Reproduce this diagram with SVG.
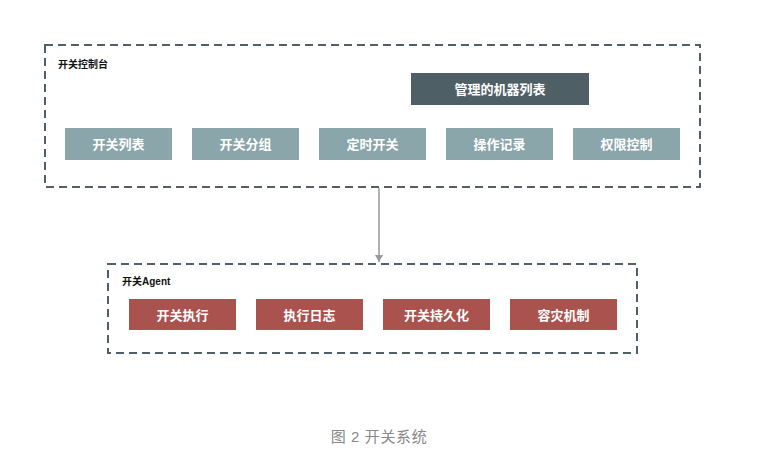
<svg xmlns="http://www.w3.org/2000/svg" width="758" height="452" viewBox="0 0 758 452">
<style>
.frame{fill:none;stroke:#525f66;stroke-width:2;stroke-dasharray:8 5}
.teal{fill:#8aa6aa}
.dark{fill:#4f5f66}
.red{fill:#a9524e}
.bt{font-family:"Liberation Sans","Noto Sans CJK SC",sans-serif;font-size:13px;font-weight:bold;fill:#fff;text-anchor:middle}
.lbl{font-family:"Liberation Sans","Noto Sans CJK SC",sans-serif;font-size:10px;font-weight:bold;fill:#111}
.cap{font-family:"Liberation Sans","Noto Sans CJK SC",sans-serif;font-size:15px;fill:#888;text-anchor:middle;letter-spacing:0.6px}
</style>
<defs>
<marker id="ah" markerWidth="8" markerHeight="8" refX="7" refY="4" orient="auto" markerUnits="userSpaceOnUse">
<path d="M0,0 L7,4 L0,8 Z" fill="#999"/>
</marker>
</defs>
<rect width="758" height="452" fill="#fff"/>
<g id="console">
<rect class="frame" x="45" y="45" width="655" height="142"/>
<text class="lbl" x="58" y="68">开关控制台</text>
</g>
<g id="machines"><rect class="dark" x="411" y="73" width="178" height="32"/><text class="bt" x="500" y="94">管理的机器列表</text></g>
<g id="switch-list"><rect class="teal" x="65" y="128" width="107" height="32"/><text class="bt" x="118.5" y="149">开关列表</text></g>
<g id="switch-group"><rect class="teal" x="192" y="128" width="107" height="32"/><text class="bt" x="245.5" y="149">开关分组</text></g>
<g id="timer-switch"><rect class="teal" x="319" y="128" width="107" height="32"/><text class="bt" x="372.5" y="149">定时开关</text></g>
<g id="op-log"><rect class="teal" x="446" y="128" width="107" height="32"/><text class="bt" x="499.5" y="149">操作记录</text></g>
<g id="perm"><rect class="teal" x="573" y="128" width="107" height="32"/><text class="bt" x="626.5" y="149">权限控制</text></g>
<g id="agent">
<rect class="frame" x="108" y="264" width="529" height="89"/>
<text class="lbl" x="122" y="285">开关Agent</text>
</g>
<g id="exec"><rect class="red" x="129" y="299" width="107" height="31"/><text class="bt" x="182.5" y="319.5">开关执行</text></g>
<g id="exec-log"><rect class="red" x="256" y="299" width="107" height="31"/><text class="bt" x="309.5" y="319.5">执行日志</text></g>
<g id="persist"><rect class="red" x="383" y="299" width="107" height="31"/><text class="bt" x="436.5" y="319.5">开关持久化</text></g>
<g id="dr"><rect class="red" x="510" y="299" width="107" height="31"/><text class="bt" x="563.5" y="319.5">容灾机制</text></g>
<g id="connectors">
<line x1="379" y1="188" x2="379" y2="262" stroke="#999" stroke-width="1.5" marker-end="url(#ah)"/>
</g>
<text class="cap" x="379" y="442">图 2 开关系统</text>
</svg>
